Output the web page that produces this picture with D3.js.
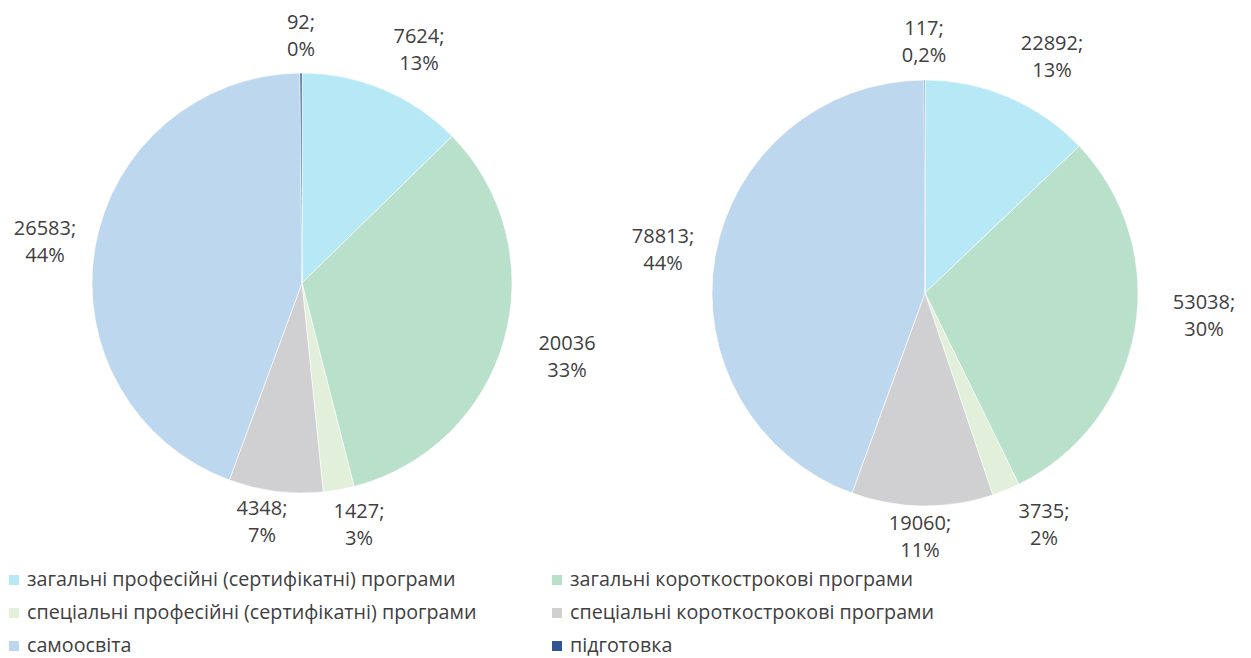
<!DOCTYPE html>
<html>
<head>
<meta charset="utf-8">
<script src="https://cdn.jsdelivr.net/npm/d3@7"></script>
<style>
  body { margin: 0; background: #fff; }
  text { font-family: "Open Sans", "Noto Sans", sans-serif; fill: #404040; }
</style>
</head>
<body>
<div id="chart"></div>
<script>
// categories (legend order = slice order, clockwise from 12 o'clock)
let categories = [
    "загальні професійні (сертифікатні) програми",
    "загальні короткострокові програми",
    "спеціальні професійні (сертифікатні) програми",
    "спеціальні короткострокові програми",
    "самоосвіта",
    "підготовка"
];

let leftValues = [7624, 20036, 1427, 4348, 26583, 92];
let leftPercents = ["13%", "33%", "3%", "7%", "44%", "0%"];
let leftSep = [";", "", ";", ";", ";", ";"];

let rightValues = [22892, 53038, 3735, 19060, 78813, 117];
let rightPercents = ["13%", "30%", "2%", "11%", "44%", "0,2%"];
let rightSep = [";", ";", ";", ";", ";", ";"];

let colors = ["#b7e8f6", "#b9e0cb", "#e2efda", "#d0cfd1", "#bdd7ee", "#2f5597"];

// label anchor offsets from pie centre (first line baseline)
let leftLabelPos = [[117, -240], [265, 67], [57, 235], [-40, 232], [-257, -48], [-1, -254]];
let rightLabelPos = [[127, -243], [279, 16], [119, 225], [-5, 237], [-262, -50], [-1, -258]];

function makePieChart() {
    let svgWidth = 1251;
    let svgHeight = 658;

    let svg = d3.select("#chart")
        .append("svg")
        .attr("width", svgWidth)
        .attr("height", svgHeight);

    let pie = d3.pie().sort(null).value(d => d);

    function drawPie(cx, cy, r, values, percents, seps, labelPos) {
        let g = svg.append("g")
            .attr("transform", `translate(${cx}, ${cy})`);

        let arc = d3.arc().innerRadius(0).outerRadius(r);

        g.selectAll("path")
            .data(pie(values))
            .enter()
            .append("path")
            .attr("d", arc)
            .attr("fill", (d, i) => colors[i])
            .attr("stroke", "#fff")
            .attr("stroke-width", 0.6);

        let labels = g.selectAll(".lbl")
            .data(values)
            .enter()
            .append("text")
            .attr("class", "lbl")
            .attr("text-anchor", "middle")
            .attr("font-size", "20px")
            .attr("x", (d, i) => labelPos[i][0])
            .attr("y", (d, i) => labelPos[i][1]);

        labels.append("tspan")
            .attr("x", (d, i) => labelPos[i][0])
            .text((d, i) => d + seps[i]);

        labels.append("tspan")
            .attr("x", (d, i) => labelPos[i][0])
            .attr("dy", 27)
            .text((d, i) => percents[i]);
    }

    drawPie(302, 283, 210, leftValues, leftPercents, leftSep, leftLabelPos);
    drawPie(925, 293, 213, rightValues, rightPercents, rightSep, rightLabelPos);

    // legend: two columns, three rows
    let legend = svg.append("g");
    let colX = [9, 552];
    let rowY = [586, 619, 652];

    let items = legend.selectAll(".item")
        .data(categories)
        .enter()
        .append("g")
        .attr("class", "item")
        .attr("transform", (d, i) => `translate(${colX[i % 2]}, ${rowY[Math.floor(i / 2)]})`);

    items.append("rect")
        .attr("x", 0)
        .attr("y", -11)
        .attr("width", 10)
        .attr("height", 10)
        .attr("fill", (d, i) => colors[i]);

    items.append("text")
        .attr("x", 18)
        .attr("y", 0)
        .attr("font-size", "19.7px")
        .text(d => d);
}

makePieChart();
</script>
</body>
</html>
